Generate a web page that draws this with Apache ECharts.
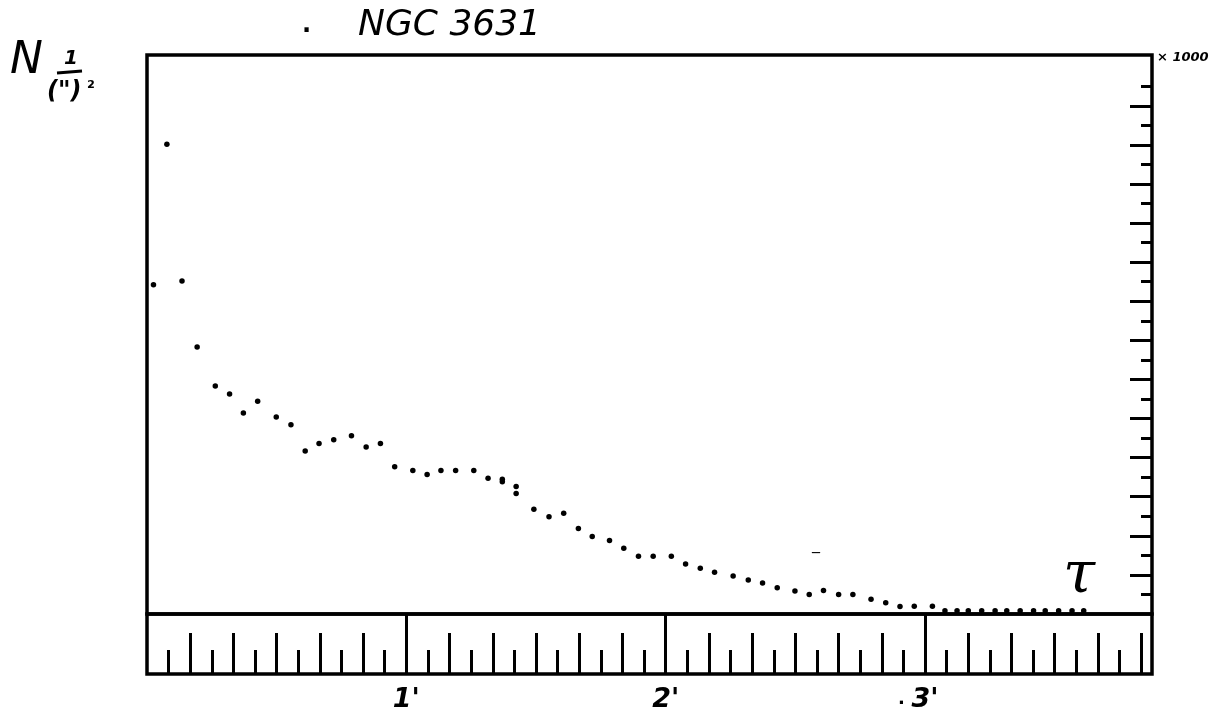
<!DOCTYPE html>
<html>
<head>
<meta charset="utf-8">
<script src="https://cdn.jsdelivr.net/npm/echarts@6/dist/echarts.min.js"></script>
<style>html,body{margin:0;padding:0;background:#fff}#chart{width:1228px;height:714px}</style>
</head>
<body>
<div id="chart"></div>
<script>
// Radius in arcseconds (ruler: 5" divisions, labelled every arcminute)
const radiusArcsec = [1.5, 4.6, 8.1, 11.6, 15.8, 19.1, 22.3, 25.6, 29.9, 33.3, 36.6, 39.8, 43.2, 47.3, 50.7, 54.0, 57.3, 61.5, 64.8, 68.0, 71.4, 75.6, 78.9, 82.2, 82.2, 85.4, 85.4, 89.5, 93.0, 96.4, 99.8, 103.0, 107.0, 110.3, 113.7, 117.1, 121.3, 124.6, 128.0, 131.3, 135.6, 139.1, 142.4, 145.8, 149.9, 153.2, 156.5, 160.0, 163.3, 167.5, 170.9, 174.2, 177.5, 181.7, 184.6, 187.4, 190.0, 193.1, 196.2, 198.9, 202.0, 205.1, 207.8, 210.9, 214.0, 216.7];
// Surface density N per square arcsecond (units of the right-hand scale, x 1000)
const density = [8.42, 12.02, 8.52, 6.83, 5.83, 5.63, 5.14, 5.44, 5.04, 4.84, 4.17, 4.36, 4.46, 4.56, 4.27, 4.36, 3.77, 3.67, 3.57, 3.67, 3.67, 3.67, 3.47, 3.45, 3.38, 3.26, 3.08, 2.68, 2.49, 2.58, 2.19, 1.98, 1.88, 1.68, 1.48, 1.48, 1.48, 1.28, 1.17, 1.07, 0.97, 0.87, 0.79, 0.67, 0.59, 0.50, 0.60, 0.50, 0.50, 0.38, 0.29, 0.19, 0.20, 0.20, 0.08, 0.08, 0.08, 0.08, 0.08, 0.08, 0.08, 0.08, 0.08, 0.08, 0.08, 0.08];
const minuteTicks = [60, 120, 180];
const minuteLabels = ["1'", "2'", "3'"];
const title = "NGC 3631";
const scaleNote = "× 1000";
const xName = "τ";

const X_MAX = 232.5, Y_MAX = 14.3;
const longY = [], shortY = [];
for (let v = 1; v <= 13; v++) longY.push(v);
for (let v = 0.5; v <= 13.5; v += 1) shortY.push(v);
const longX = [], shortX = [];
for (let v = 10; v <= 230; v += 10) longX.push(v);
for (let v = 5; v <= 225; v += 10) shortX.push(v);

const black = '#000';
const plotRect = {left: 147, top: 55, width: 1005, height: 559};
const rulerRect = {left: 147, top: 614, width: 1005, height: 60};
const border = {show: true, borderColor: black, borderWidth: 3.5, backgroundColor: 'transparent'};
const plain = {show: false};

const hiddenX = (grid) => ({type: 'value', gridIndex: grid, min: 0, max: X_MAX, show: false});
const hiddenY = (grid) => ({type: 'value', gridIndex: grid, min: 0, max: 1, show: false});
const tickX = (grid, vals, len, label) => ({
  type: 'value', gridIndex: grid, min: 0, max: X_MAX, position: 'bottom',
  axisLine: {show: false, onZero: false}, splitLine: {show: false},
  axisTick: {show: true, inside: true, length: len, customValues: vals, lineStyle: {color: black, width: 3}},
  axisLabel: label || {show: false}
});
const tickY = (grid, vals, len) => ({
  type: 'value', gridIndex: grid, min: 0, max: Y_MAX, position: 'right',
  axisLine: {show: false, onZero: false}, splitLine: {show: false}, axisLabel: {show: false},
  axisTick: {show: true, inside: true, length: len, customValues: vals, lineStyle: {color: black, width: 3}}
});

const chart = echarts.init(document.getElementById('chart'));
chart.setOption({
  animation: false,
  backgroundColor: '#fff',
  grid: [
    Object.assign({}, plotRect, border),
    Object.assign({}, plotRect, plain),
    Object.assign({}, rulerRect, border),
    Object.assign({}, rulerRect, plain),
    Object.assign({}, rulerRect, plain)
  ],
  xAxis: [
    hiddenX(0),
    hiddenX(1),
    tickX(2, longX, 41),
    tickX(3, shortX, 24),
    tickX(4, minuteTicks, 60, {
      show: true, customValues: minuteTicks, margin: 12, color: black, fontSize: 27,
      fontWeight: 'bold', fontStyle: 'italic', fontFamily: 'DejaVu Sans',
      formatter: v => minuteLabels[minuteTicks.indexOf(v)] || ''
    })
  ],
  yAxis: [
    tickY(0, longY, 22),
    tickY(1, shortY, 11),
    hiddenY(2),
    hiddenY(3),
    hiddenY(4)
  ],
  series: [{
    type: 'scatter', xAxisIndex: 0, yAxisIndex: 0,
    symbol: 'circle', symbolSize: 5.5, itemStyle: {color: black, opacity: 1},
    data: radiusArcsec.map((r, i) => [r, density[i]])
  }],
  graphic: [
    {type: 'text', left: 358, top: 8, style: {text: title, font: 'italic 36px "DejaVu Sans"', fill: black}},
    {type: 'text', left: 302, top: 20, style: {text: '·', font: 'bold 24px "DejaVu Sans"', fill: black}},
    {type: 'text', left: 10, top: 40, style: {text: 'N', font: 'italic 44px "DejaVu Sans"', fill: black}},
    {type: 'text', left: 64, top: 49, style: {text: '1', font: 'italic bold 20px "DejaVu Sans"', fill: black}},
    {type: 'line', shape: {x1: 57, y1: 73, x2: 82, y2: 71}, style: {stroke: black, lineWidth: 3}},
    {type: 'text', left: 47, top: 80, style: {text: '(")', font: 'italic bold 24px "DejaVu Sans"', fill: black}},
    {type: 'text', left: 87, top: 80, style: {text: '²', font: 'bold 18px "DejaVu Sans"', fill: black}},
    {type: 'text', left: 1157, top: 51, style: {text: scaleNote, font: 'italic bold 13px "DejaVu Sans"', fill: black}},
    {type: 'text', left: 1063, top: 548, style: {text: xName, font: 'italic 58px "DejaVu Serif"', fill: black}},
    {type: 'text', left: 812, top: 552, style: {text: '‾', font: '16px "DejaVu Sans"', fill: black}},
    {type: 'text', left: 898, top: 690, style: {text: '.', font: 'bold 18px "DejaVu Sans"', fill: black}}
  ]
});
</script>
</body>
</html>
